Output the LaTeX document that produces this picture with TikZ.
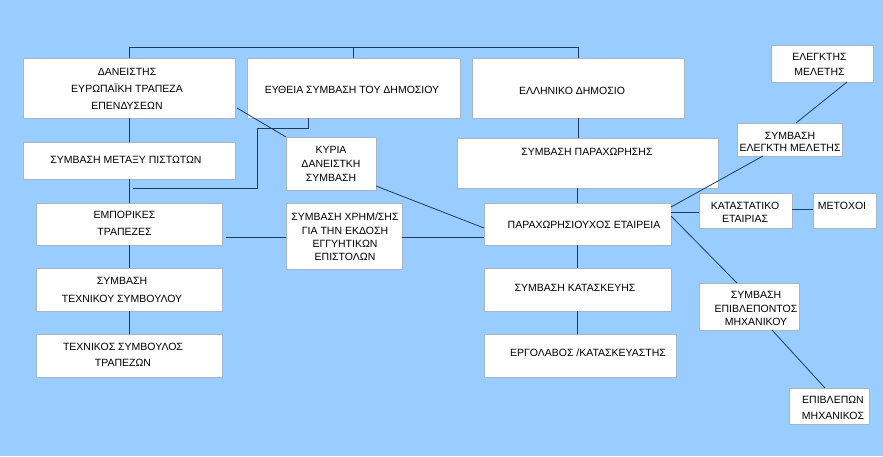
\documentclass[tikz,border=0pt]{standalone}
\usepackage{fontspec}
\setmainfont{Liberation Sans}
\usetikzlibrary{calc}
\definecolor{bg}{HTML}{99CCFF}
\definecolor{ln}{HTML}{1F3A60}
\definecolor{bd}{HTML}{A3B6CC}
\tikzset{
  box/.style={draw=bd, fill=white, line width=0.6pt, inner sep=0pt, outer sep=0pt},
  txt/.style={inner sep=0pt, align=center, text=black},
  conn/.style={draw=ln, line width=0.8pt},
}
\newcommand{\fs}[1]{\fontsize{10.5}{#1}\selectfont}
\begin{document}
\begin{tikzpicture}[x=1pt,y=-1pt]
\path[fill=bg] (0,0) rectangle (883,456);
\useasboundingbox (0,0) rectangle (883,456);
% boxes
\node[box, minimum width=212pt, minimum height=60pt] (dan) at (129,88) {};
\node[box, minimum width=213pt, minimum height=60pt] (eff) at (353.5,88) {};
\node[box, minimum width=212pt, minimum height=60pt] (ell) at (578,88) {};
\node[box, minimum width=212pt, minimum height=37pt] (sym) at (129,160.5) {};
\node[box, minimum width=90pt, minimum height=53pt] (kyr) at (331,163.5) {};
\node[box, minimum width=261pt, minimum height=50pt] (spar) at (587.5,163) {};
\node[box, minimum width=187pt, minimum height=42pt] (par) at (577.5,224) {};
\node[box, minimum width=186pt, minimum height=42pt] (emp) at (129,224) {};
\node[box, minimum width=116pt, minimum height=66pt] (chr) at (344,236) {};
\node[box, minimum width=186pt, minimum height=43pt] (tec) at (129,289.5) {};
\node[box, minimum width=186pt, minimum height=43pt] (tes) at (129,355.5) {};
\node[box, minimum width=187pt, minimum height=43pt] (kat) at (577.5,289.5) {};
\node[box, minimum width=192pt, minimum height=43pt] (erg) at (580,355.5) {};
\node[box, minimum width=93pt, minimum height=35pt] (kst) at (745.5,210.5) {};
\node[box, minimum width=63pt, minimum height=35pt] (met) at (844.5,210.5) {};
\node[box, minimum width=102pt, minimum height=37pt] (ele) at (822,63.5) {};
\node[box, minimum width=105pt, minimum height=33pt] (sel) at (789.5,139.5) {};
\node[box, minimum width=100pt, minimum height=47pt] (sep) at (749,306.5) {};
\node[box, minimum width=80pt, minimum height=36pt] (epn) at (829,406) {};
% texts
\node[txt, font=\fs{17}] (danT) at (127,89) {ΔΑΝΕΙΣΤΗΣ\\ΕΥΡΩΠΑΪΚΗ ΤΡΑΠΕΖΑ\\ΕΠΕΝΔΥΣΕΩΝ};
\node[txt, font=\fs{13}] (effT) at (352,90) {ΕΥΘΕΙΑ ΣΥΜΒΑΣΗ ΤΟΥ ΔΗΜΟΣΙΟΥ};
\node[txt, font=\fs{13}] (ellT) at (572,91) {ΕΛΛΗΝΙΚΟ ΔΗΜΟΣΙΟ};
\node[txt, font=\fs{13}] (symT) at (126,160) {ΣΥΜΒΑΣΗ ΜΕΤΑΞΥ ΠΙΣΤΩΤΩΝ};
\node[txt, font=\fs{14}] (kyrT) at (331,164) {ΚΥΡΙΑ\\ΔΑΝΕΙΣΤΚΗ\\ΣΥΜΒΑΣΗ};
\node[txt, font=\fs{13}] (sparT) at (587,152) {ΣΥΜΒΑΣΗ ΠΑΡΑΧΩΡΗΣΗΣ};
\node[txt, font=\fs{13}] (parT) at (584,225) {ΠΑΡΑΧΩΡΗΣΙΟΥΧΟΣ ΕΤΑΙΡΕΙΑ};
\node[txt, font=\fs{17}] (empT) at (124.5,223.5) {ΕΜΠΟΡΙΚΕΣ\\ΤΡΑΠΕΖΕΣ};
\node[txt, font=\fs{13.3}] (chrT) at (345,237) {ΣΥΜΒΑΣΗ ΧΡΗΜ/ΣΗΣ\\ΓΙΑ ΤΗΝ ΕΚΔΟΣΗ\\ΕΓΓΥΗΤΙΚΩΝ\\ΕΠΙΣΤΟΛΩΝ};
\node[txt, font=\fs{18}] (tecT) at (122,290) {ΣΥΜΒΑΣΗ\\ΤΕΧΝΙΚΟΥ ΣΥΜΒΟΥΛΟΥ};
\node[txt, font=\fs{16}] (tesT) at (123,355) {ΤΕΧΝΙΚΟΣ ΣΥΜΒΟΥΛΟΣ\\ΤΡΑΠΕΖΩΝ};
\node[txt, font=\fs{13}] (katT) at (575,288) {ΣΥΜΒΑΣΗ ΚΑΤΑΣΚΕΥΗΣ};
\node[txt, font=\fs{13}] (ergT) at (588,353) {ΕΡΓΟΛΑΒΟΣ /ΚΑΤΑΣΚΕΥΑΣΤΗΣ};
\node[txt, font=\fs{13}] (kstT) at (745,212.5) {ΚΑΤΑΣΤΑΤΙΚΟ\\ΕΤΑΙΡΙΑΣ};
\node[txt, font=\fs{13}] (metT) at (842,206) {ΜΕΤΟΧΟΙ};
\node[txt, font=\fs{15}] (eleT) at (819.5,64.5) {ΕΛΕΓΚΤΗΣ\\ΜΕΛΕΤΗΣ};
\node[txt, font=\fs{12}] (selT) at (790,142) {ΣΥΜΒΑΣΗ\\ΕΛΕΓΚΤΗ ΜΕΛΕΤΗΣ};
\node[txt, font=\fs{13.5}] (sepT) at (756,308.5) {ΣΥΜΒΑΣΗ\\ΕΠΙΒΛΕΠΟΝΤΟΣ\\ΜΗΧΑΝΙΚΟΥ};
\node[txt, font=\fs{16}] (epnT) at (833,408) {ΕΠΙΒΛΕΠΩΝ\\ΜΗΧΑΝΙΚΟΣ};
% connectors
\draw[conn] (dan.north) -- ++(0,-11) -| (ell.north);
\draw[conn] (eff.north) -- ++(0,-11);
\draw[conn] (dan.south) -- (sym.north);
\draw[conn] (sym.south) -- (emp.north);
\draw[conn] (emp.south) -- (tec.north);
\draw[conn] (tec.south) -- (tes.north);
\coordinate (e1) at (133,188);
\draw[conn] ([xshift=-45.5pt]eff.south) -- ++(0,10) -- ++(-51,0) -- ++(0,60) -- (e1);
\draw[conn] ([shift={(2pt,10pt)}]dan.south east) -- (kyr.north west);
\draw[conn] ([yshift=4pt]kyr.south east) -- ([yshift=-4pt]par.west);
\coordinate (c1) at ([yshift=-1pt]chr.east);
\coordinate (c0) at ([xshift=4pt]emp.east);
\draw[conn] (c0 |- c1) -- (chr.west |- c1);
\draw[conn] (c1) -- (c1 -| par.west);
\draw[conn] (ell.south) -- (ell.south |- spar.north);
\draw[conn] (par.north |- spar.south) -- (par.north);
\draw[conn] (par.south) -- (kat.north);
\draw[conn] (kat.south) -- (kat.south |- erg.north);
\coordinate (c2) at ([yshift=12pt]par.east);
\draw[conn] (c2) -- (c2 -| kst.west);
\draw[conn] ([yshift=1.5pt]kst.east) -- ([yshift=1.5pt]met.west);
\draw[conn] ([xshift=25pt]ele.south) -- ([xshift=6.5pt]sel.north);
\draw[conn] ([xshift=-26.5pt]sel.south) -- ([yshift=17pt]par.east);
\draw[conn] ([yshift=8pt]par.east) -- ([xshift=-12pt]sep.north);
\draw[conn] ([xshift=23pt]sep.south) -- ([xshift=-4pt]epn.north);
\end{tikzpicture}
\end{document}
